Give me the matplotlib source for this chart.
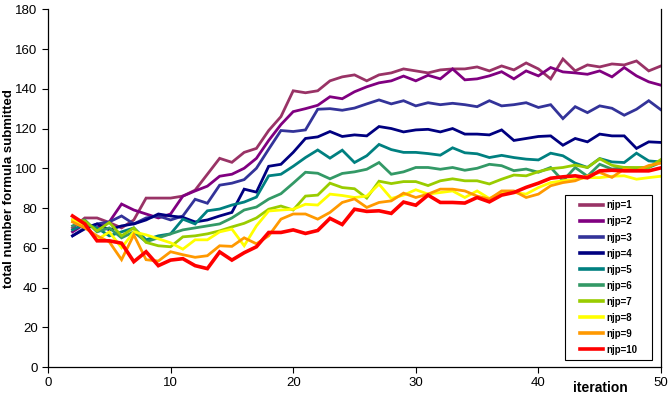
import numpy as np
import matplotlib
matplotlib.use('Agg')
from matplotlib import pyplot as plt
from matplotlib.patches import Rectangle

plt.rcParams['font.family'] = ['Liberation Sans', 'DejaVu Sans']

# iterations 2..50
iteration = list(range(2, 51))

njp1 = [70, 75, 75, 72.7, 70, 74, 85, 85, 85, 86, 89, 97, 105, 103, 108, 110, 119, 126, 139, 138,
        139, 144, 146, 147, 144, 147, 148, 150, 149, 148, 149.5, 150, 150, 151, 149, 151.5, 149.5,
        153, 150, 145, 155, 149, 152, 151, 152.5, 152, 154, 149, 151.5]
njp2 = [68, 72, 70, 73, 82, 79, 77, 75, 77, 86, 88.6, 91, 96, 97, 100, 105, 114, 122, 128.5, 130,
        131.7, 136, 135, 138.5, 141, 143, 144, 146.4, 144, 146.8, 145, 150, 144.5, 145, 146.5,
        148.6, 145, 149, 146.5, 150.7, 148.5, 148, 147.3, 149, 146, 150.7, 146.5, 143.5, 141.8]
njp3 = [66, 70, 72, 73, 76, 72, 75, 76, 74, 76, 84.4, 82.4, 91.5, 92.5, 94.3, 100, 109.6, 119,
        118.5, 119.3, 129.7, 130, 129.2, 130.3, 132.4, 134.4, 132.4, 134, 131.4, 133, 132, 132.7,
        132, 131, 134, 131.4, 132, 133, 130.6, 132, 125, 131, 128, 131.4, 130.2, 126.7, 129.7,
        134, 129.4]
njp4 = [66, 69.5, 72, 69, 71, 72, 74, 77, 76, 75.3, 73, 74, 76, 77.8, 89.5, 88, 101, 102, 108,
        115, 115.8, 118.5, 116, 116.8, 116.3, 121, 120, 118.3, 119.3, 119.6, 118.3, 120, 117.2,
        117.2, 116.8, 119.3, 114, 115, 116, 116.3, 111.6, 115, 113.3, 117.2, 116.3, 116.3, 110,
        113.3, 113]
njp5 = [69, 72, 70, 66, 68, 70, 64, 66, 67, 74.4, 72, 78.6, 79.5, 81.5, 83, 85.5, 96.2, 97, 101,
        105.4, 109.2, 105.1, 109.1, 102.9, 106.3, 112, 109.4, 108, 108, 107.4, 106.6, 110.3,
        107.8, 107.3, 105.4, 106.5, 105.4, 104.6, 104.2, 107.6, 106.3, 102.6, 100.4, 104.9,
        103.2, 102.9, 107.6, 103.7, 103.2]
njp6 = [71, 74, 68, 70, 65, 68, 63, 65, 67, 69, 70, 71, 72, 75, 79, 80.5, 84.5, 87.2, 92.5, 98,
        97.5, 94.7, 97.4, 98.2, 99.5, 102.9, 97, 98.2, 100.4, 100.4, 99.5, 100.4, 99, 100, 102,
        101.3, 98.8, 99.6, 98, 100.4, 93.7, 100.4, 96, 102, 99.6, 100.4, 100, 100.4, 103]
njp7 = [74, 73.5, 68.5, 72.7, 66, 70, 62.7, 61, 60.5, 65.5, 66, 67, 68.5, 70.5, 72.3, 75, 79.4,
        81, 79, 86, 86.5, 92.5, 90.3, 89.7, 85, 93.5, 92.3, 93.3, 93.3, 91.3, 93.7, 94.7, 93.7,
        93.7, 92.1, 94.5, 96.6, 96.2, 98.3, 99.8, 100.4, 101.6, 100.4, 104.8, 101.5, 100.4,
        100.4, 100.4, 104.4]
njp8 = [74, 71.5, 64, 68, 60, 68, 66.5, 64.5, 62.5, 59.3, 64, 64, 68, 69.4, 61, 71, 78.5, 79,
        79.4, 81.9, 81.5, 87, 86.3, 85.3, 86, 92, 84.8, 86.5, 89.2, 87, 87.8, 88.6, 85.3, 88.6,
        84.8, 87.8, 87.8, 87, 90.3, 92.8, 93.7, 94.5, 95.3, 95.3, 96, 96.2, 94.5, 95.3, 96]
njp9 = [73, 70, 66, 63, 54, 66.5, 54, 53.3, 58, 56.5, 55.2, 56, 61, 60.7, 65, 62, 66, 74.4, 77,
        77, 74.4, 77.8, 82.8, 84.6, 80.3, 82.8, 83.6, 87.5, 85.3, 87, 89.5, 89.5, 88.6, 86,
        84.5, 88.6, 88.6, 85.3, 87, 91.2, 92.8, 93.7, 96.2, 97.9, 95.4, 99.6, 98.8, 101.4, 102.6]
njp10 = [76, 72, 63.5, 63.5, 62.3, 53, 58, 51, 53.8, 54.5, 51, 49.5, 57.9, 53.8, 57.5, 60.5,
         67.7, 67.7, 69, 67.2, 68.7, 74.8, 71.7, 79.4, 78.3, 78.6, 77.3, 83, 81.4, 86.5, 82.8,
         82.8, 82.5, 85.3, 83.1, 86.5, 87.8, 90.4, 92.5, 95, 95.7, 96.2, 95.2, 98.7, 99, 98.7,
         98.7, 98.7, 100.2]

series = [njp1, njp2, njp3, njp4, njp5, njp6, njp7, njp8, njp9, njp10]
labels = ['njp=%d' % i for i in range(1, 11)]
colors = ['#993366', '#800080', '#333399', '#000080', '#008080',
          '#339966', '#99cc00', '#ffff00', '#ff9900', '#ff0000']

fig, ax = plt.subplots(figsize=(6.7, 4.04), dpi=100)
fig.subplots_adjust(left=48/670, right=661/670, bottom=1-367/404, top=1-9.3/404)

for data, lab, col in zip(series, labels, colors):
    lw = 2.6 if lab == 'njp=10' else 2.0
    ax.plot(iteration, data, color=col, lw=lw, label=lab, solid_joinstyle='miter')

ax.set_xlim(0, 50)
ax.set_ylim(0, 180)
ax.set_xticks(np.arange(0, 51, 10))
ax.set_yticks(np.arange(0, 181, 20))
ax.tick_params(direction='out', length=4, width=0.8, labelsize=9.5, colors='black')
ax.spines['top'].set_visible(False)
for s in ('left', 'bottom', 'right'):
    ax.spines[s].set_linewidth(0.9)
    ax.spines[s].set_color('black')

ax.set_ylabel('total number formula submitted', fontsize=9.5, fontweight='bold')
ax.yaxis.set_label_coords(-39/613, 0.5)
ax.yaxis.label.set_va('center')
ax.set_xlabel('iteration', fontsize=10, fontweight='bold')
ax.xaxis.set_label_coords((600-48)/613, -21/358)
ax.xaxis.label.set_va('center')

# legend box (Excel style)
x0, x1 = (565-48)/613, (652-48)/613
y0, y1 = (367-360)/358, (367-195)/358
ax.add_patch(Rectangle((x0, y0), x1-x0, y1-y0, transform=ax.transAxes,
                       facecolor='white', edgecolor='black', lw=0.8, zorder=5))
leg = ax.legend(loc='center', bbox_to_anchor=((x0+x1)/2, (y0+y1)/2), frameon=False,
                prop={'size': 7, 'weight': 'bold'}, handlelength=2.4, handletextpad=0.3,
                labelspacing=0.62, borderpad=0)
leg.set_zorder(6)
for h in leg.get_lines():
    h.set_linewidth(2.6)

plt.savefig('out.png', dpi=100)
